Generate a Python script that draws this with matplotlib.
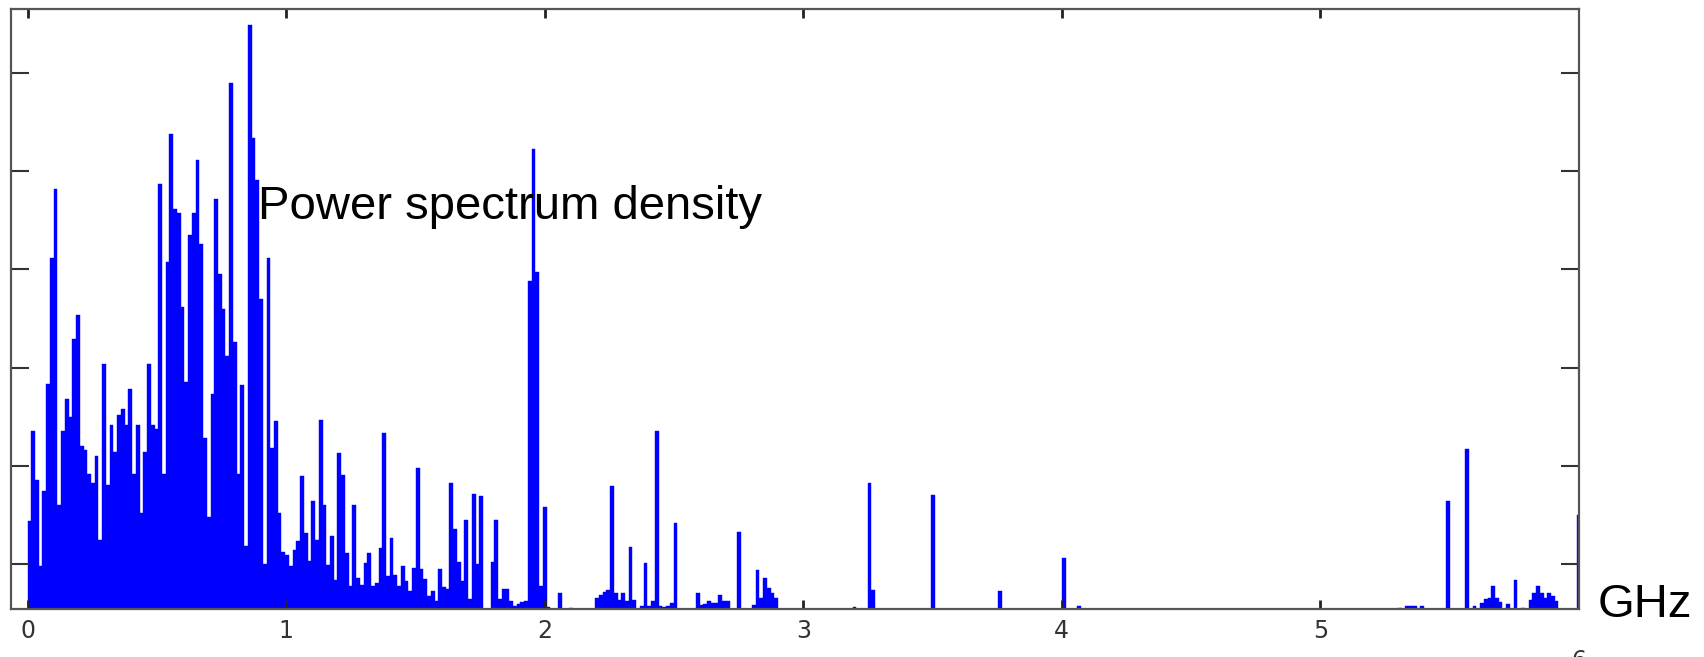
import numpy as np
import matplotlib.pyplot as plt
from matplotlib.transforms import blended_transform_factory

# spectrum bins, 0 .. 6 GHz (arbitrary power units)
n_bins = 416
bin_width = 6 / 415.5

# dense part of the spectrum, bins 0..142 (0 - 2.06 GHz)
low_band = [
    88, 178, 129, 43, 118, 225, 351, 420, 104, 178,
    210, 192, 270, 294, 163, 159, 135, 126, 153, 69,
    245, 124, 184, 157, 194, 200, 184, 220, 135, 184,
    96, 157, 245, 184, 180, 425, 135, 347, 475, 400,
    396, 302, 227, 374, 396, 449, 365, 171, 92, 215,
    410, 335, 300, 253, 526, 267, 135, 224, 63, 584,
    471, 429, 310, 45, 351, 161, 188, 96, 57, 54,
    43, 59, 68, 133, 76, 48, 108, 69, 189, 104,
    44, 73, 29, 156, 134, 56, 23, 104, 31, 24,
    46, 56, 23, 26, 61, 176, 33, 71, 34, 23,
    43, 28, 18, 41, 141, 40, 30, 13, 18, 8,
    40, 22, 20, 126, 80, 47, 28, 89, 10, 115,
    45, 113, 0, 0, 47, 89, 10, 20, 20, 8,
    3, 5, 7, 8, 328, 460, 337, 23, 102, 2,
    0, 0, 16,
]

# sparse part: bin index and height
peak_bins = [145, 152, 153, 154, 155, 156, 157, 158, 159, 160, 161, 162,
             164, 165, 166, 167, 168, 169, 170, 171, 172, 173,
             179, 180, 181, 182, 183, 184, 185, 186, 187, 190,
             194, 195, 196, 197, 198, 199, 200,
             221, 225, 226, 242, 260, 277, 281,
             367, 369, 370, 371, 373, 380, 385,
             387, 389, 390, 391, 392, 393, 394, 396, 398, 400,
             402, 403, 404, 405, 406, 407, 408, 409, 415]
peak_heights = [1, 11, 14, 17, 19, 123, 16, 9, 16, 8, 62, 9,
                3, 46, 3, 8, 178, 3, 2, 3, 6, 86,
                16, 4, 5, 8, 6, 6, 14, 8, 8, 77,
                4, 39, 11, 31, 21, 16, 11,
                2, 126, 19, 114, 18, 51, 3,
                1, 3, 3, 3, 3, 108, 160,
                3, 6, 10, 11, 23, 11, 7, 5, 29, 1,
                9, 16, 23, 16, 11, 16, 13, 8, 94]

x_ticks = [0, 1, 2, 3, 4, 5]
y_ticks = [45, 143, 241, 340, 438, 536]

psd = np.zeros(n_bins)
psd[:len(low_band)] = low_band
psd[peak_bins] = peak_heights
freq = np.arange(n_bins) * bin_width

fig = plt.figure(figsize=(17.04, 6.57), dpi=100)
ax = fig.add_axes([11 / 1704, 1 - 609 / 657, 1568 / 1704, 600 / 657])

ax.bar(freq, psd, width=bin_width, align='edge', color='#0000ff',
       edgecolor='#0000ff', linewidth=0.3)

ax.set_xlim(-0.064, 6.0)
ax.set_ylim(0, 600)

spine_col = '#555555'
for s in ax.spines.values():
    s.set_color(spine_col)
    s.set_linewidth(1.6)

ax.set_xticks(x_ticks)
ax.set_xticklabels([str(t) for t in x_ticks])
ax.set_yticks(y_ticks)
ax.set_yticklabels([])
ax.tick_params(axis='x', direction='in', length=6.5, width=2, color='#222222',
               top=True, bottom=True, labelsize=17, labelcolor='#333333', pad=7)
ax.tick_params(axis='y', direction='in', length=13, width=1.5, color='#333333',
               left=True, right=True)

# last tick label sits lower and is cut by the figure edge
trans = blended_transform_factory(ax.transData, ax.transAxes)
ax.text(6, -0.086, '6', transform=trans, ha='center', va='center',
        fontsize=17, color='#333333', clip_on=False)

fig.text(257.5 / 1704, 1 - 219 / 657, 'Power spectrum density',
         fontsize=34, family='Liberation Sans', va='baseline', ha='left')
fig.text(1598 / 1704, 1 - 617 / 657, 'GHz',
         fontsize=34, family='Liberation Sans', va='baseline', ha='left')

fig.savefig('out.png', dpi=100)
